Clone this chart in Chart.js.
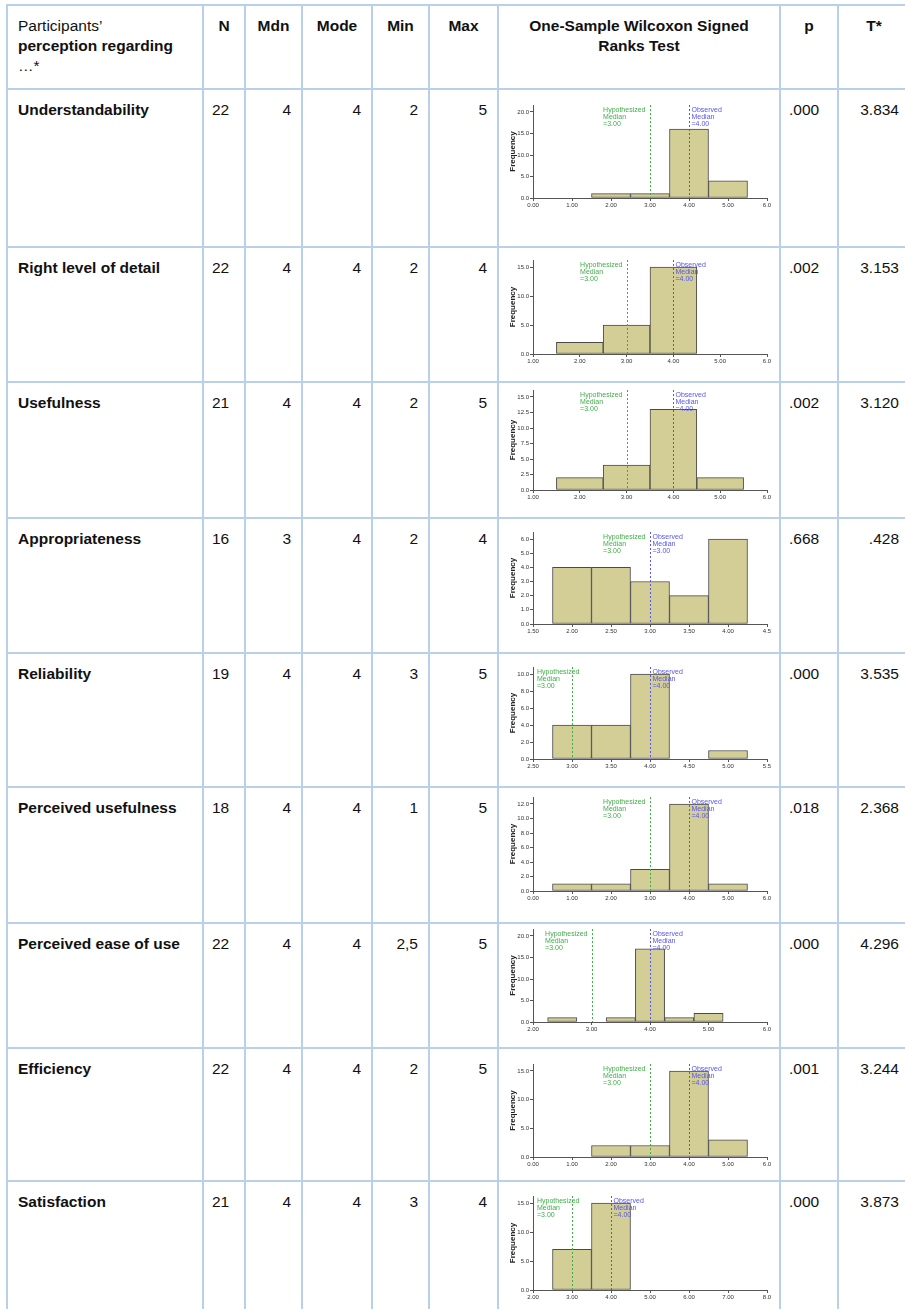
<!DOCTYPE html>
<html>
<head>
<meta charset="utf-8">
<script src="https://cdn.jsdelivr.net/npm/chart.js"></script>
<style>
html, body { margin:0; padding:0; overflow:hidden; background:#fff; }
body { width:905px; height:1309px; position:relative; font-family:"Liberation Sans", Arial, sans-serif; color:#111; }
table { position:absolute; left:6px; top:4px; border-collapse:collapse; table-layout:fixed; width:905px; }
td, th { border:2px solid #b9d0ea; padding:0; vertical-align:top; font-size:15.5px; line-height:20px; }
th { padding-top:10px; font-weight:bold; text-align:center; }
th.first { text-align:left; font-weight:normal; padding-left:10px; }
td { padding-top:10px; }
td.name { font-weight:bold; padding-left:10px; }
td.num { text-align:right; padding-right:10px; }
td.left { padding-left:8px; }
td.chart { padding:0; }
.box { position:relative; width:280px; }
.box canvas { position:absolute; left:0; top:0; }
</style>
</head>
<body>
<table id="tbl">
  <colgroup>
    <col style="width:196px"><col style="width:42px"><col style="width:57px"><col style="width:70px">
    <col style="width:57px"><col style="width:69px"><col style="width:282px"><col style="width:58px"><col style="width:72px">
  </colgroup>
  <thead>
    <tr style="height:84px">
      <th class="first">Participants’<br><b>perception regarding</b><br>…*</th>
      <th>N</th><th>Mdn</th><th>Mode</th><th>Min</th><th>Max</th>
      <th>One-Sample Wilcoxon Signed<br>Ranks Test</th>
      <th>p</th><th>T*</th>
    </tr>
  </thead>
  <tbody id="body"></tbody>
</table>
<script>
// table values
const rowNames = ['Understandability', 'Right level of detail', 'Usefulness', 'Appropriateness', 'Reliability',
  'Perceived usefulness', 'Perceived ease of use', 'Efficiency', 'Satisfaction'];
const nValues = [22, 22, 21, 16, 19, 18, 22, 22, 21];
const mdnValues = [4, 4, 4, 3, 4, 4, 4, 4, 4];
const modeValues = [4, 4, 4, 4, 4, 4, 4, 4, 4];
const minValues = ['2', '2', '2', '2', '3', '1', '2,5', '2', '3'];
const maxValues = [5, 4, 5, 4, 5, 5, 5, 5, 4];
const pValues = ['.000', '.002', '.002', '.668', '.000', '.018', '.000', '.001', '.000'];
const tValues = ['3.834', '3.153', '3.120', '.428', '3.535', '2.368', '4.296', '3.244', '3.873'];

// histogram values (bin centres and frequencies)
const binCenters = [[2, 3, 4, 5], [2, 3, 4], [2, 3, 4, 5], [2, 2.5, 3, 3.5, 4], [3, 3.5, 4, 5],
  [1, 2, 3, 4, 5], [2.5, 3.5, 4, 4.5, 5], [2, 3, 4, 5], [3, 4]];
const binCounts = [[1, 1, 16, 4], [2, 5, 15], [2, 4, 13, 2], [4, 4, 3, 2, 6], [4, 4, 10, 1],
  [1, 1, 3, 12, 1], [1, 1, 17, 1, 2], [2, 2, 15, 3], [7, 15]];
const hypMedians = [3, 3, 3, 3, 3, 3, 3, 3, 3];
const obsMedians = [4, 4, 4, 3, 4, 4, 4, 4, 4];

// axis ticks
const xTickValues = [[0, 1, 2, 3, 4, 5, 6], [1, 2, 3, 4, 5, 6], [1, 2, 3, 4, 5, 6], [1.5, 2, 2.5, 3, 3.5, 4, 4.5],
  [2.5, 3, 3.5, 4, 4.5, 5, 5.5], [0, 1, 2, 3, 4, 5, 6], [2, 3, 4, 5, 6], [0, 1, 2, 3, 4, 5, 6], [2, 3, 4, 5, 6, 7, 8]];
const xTickLabels = [
  ['0.00', '1.00', '2.00', '3.00', '4.00', '5.00', '6.0'],
  ['1.00', '2.00', '3.00', '4.00', '5.00', '6.0'],
  ['1.00', '2.00', '3.00', '4.00', '5.00', '6.0'],
  ['1.50', '2.00', '2.50', '3.00', '3.50', '4.00', '4.5'],
  ['2.50', '3.00', '3.50', '4.00', '4.50', '5.00', '5.5'],
  ['0.00', '1.00', '2.00', '3.00', '4.00', '5.00', '6.0'],
  ['2.00', '3.00', '4.00', '5.00', '6.0'],
  ['0.00', '1.00', '2.00', '3.00', '4.00', '5.00', '6.0'],
  ['2.00', '3.00', '4.00', '5.00', '6.00', '7.00', '8.0']];
const yTickValues = [[0, 5, 10, 15, 20], [0, 5, 10, 15], [0, 2.5, 5, 7.5, 10, 12.5, 15], [0, 1, 2, 3, 4, 5, 6],
  [0, 2, 4, 6, 8, 10], [0, 2, 4, 6, 8, 10, 12], [0, 5, 10, 15, 20], [0, 5, 10, 15], [0, 5, 10, 15]];

// layout: row heights and where the top tick / zero line sit below each row's top border
const rowHeights = [158, 135, 136, 135, 134, 136, 125, 133, 140];
const plotTop = [23, 20, 15, 21, 21, 17, 13, 23, 22];
const plotZero = [109, 107, 108, 106, 106, 104, 99, 109, 109];

const FONT = '"Liberation Sans", Arial, sans-serif';

const medianLines = {
  id: 'medianLines',
  afterDatasetsDraw(chart, args, opts) {
    const {ctx, chartArea, scales} = chart;
    ctx.save();
    ctx.font = '7px ' + FONT;
    ctx.textBaseline = 'top';
    ctx.textAlign = 'left';
    const drawLine = (val, color) => {
      const x = Math.round(scales.x.getPixelForValue(val)) + 0.5;
      ctx.strokeStyle = color;
      ctx.lineWidth = 1;
      ctx.setLineDash([2, 2]);
      ctx.beginPath();
      ctx.moveTo(x, chartArea.top);
      ctx.lineTo(x, chartArea.bottom);
      ctx.stroke();
      return x;
    };
    const hx = drawLine(opts.hyp, '#3fae49');
    const ox = drawLine(opts.obs, '#5656ea');

    const hypText = ['Hypothesized', 'Median', '=' + opts.hyp.toFixed(2)];
    const obsText = ['Observed', 'Median', '=' + opts.obs.toFixed(2)];
    const w = Math.max(...hypText.map(t => ctx.measureText(t).width));
    let hxText = Math.max(hx - 5 - w, chartArea.left + 4);
    ctx.fillStyle = '#3fae49';
    hypText.forEach((t, k) => ctx.fillText(t, hxText, chartArea.top + 2 + k * 7));
    ctx.fillStyle = '#5656ea';
    obsText.forEach((t, k) => ctx.fillText(t, ox + 2, chartArea.top + 2 + k * 7));
    ctx.restore();
  }
};

const tbody = document.getElementById('body');
rowNames.forEach((name, i) => {
  const tr = document.createElement('tr');
  tr.style.height = rowHeights[i] + 'px';
  const h = rowHeights[i] - 2;
  tr.innerHTML =
    '<td class="name">' + name + '</td>' +
    '<td class="left">' + nValues[i] + '</td>' +
    '<td class="num">' + mdnValues[i] + '</td>' +
    '<td class="num">' + modeValues[i] + '</td>' +
    '<td class="num">' + minValues[i] + '</td>' +
    '<td class="num">' + maxValues[i] + '</td>' +
    '<td class="chart"><div class="box" style="height:' + h + 'px"><canvas id="c' + i + '" width="280" height="' + h + '"></canvas></div></td>' +
    '<td class="left">' + pValues[i] + '</td>' +
    '<td class="num">' + tValues[i] + '</td>';
  tbody.appendChild(tr);
});

function makeChart(i) {
  const h = rowHeights[i] - 2;
  const topTick = plotTop[i] - 1;
  const zero = plotZero[i] - 1;
  const yTop = yTickValues[i][yTickValues[i].length - 1];
  const yMax = yTop * (zero - topTick + 7) / (zero - topTick);
  const xv = xTickValues[i];

  new Chart(document.getElementById('c' + i), {
    type: 'bar',
    data: {
      datasets: [{
        data: binCenters[i].map((c, k) => ({x: c, y: binCounts[i][k]})),
        backgroundColor: '#d3ce96',
        borderColor: '#4a4a4a',
        borderWidth: 1,
        borderSkipped: false,
        barPercentage: 1,
        categoryPercentage: 1
      }]
    },
    options: {
      responsive: false,
      animation: false,
      devicePixelRatio: 1,
      layout: { padding: { left: 0, right: 12, top: topTick - 7, bottom: h - zero - 14 } },
      plugins: {
        legend: { display: false },
        tooltip: { enabled: false },
        medianLines: { hyp: hypMedians[i], obs: obsMedians[i] }
      },
      scales: {
        x: {
          type: 'linear',
          min: xv[0],
          max: xv[xv.length - 1],
          offset: false,
          afterBuildTicks: s => { s.ticks = xv.map(v => ({value: v})); },
          afterFit: s => { s.height = 14; },
          grid: { display: true, drawOnChartArea: false, drawTicks: true, tickLength: 3, color: '#555', offset: false },
          border: { display: true, color: '#555', width: 1 },
          ticks: {
            autoSkip: false, maxRotation: 0, padding: 1, color: '#333',
            font: { size: 6, family: FONT },
            callback: (v, idx) => xTickLabels[i][idx]
          }
        },
        y: {
          min: 0,
          max: yMax,
          afterBuildTicks: s => { s.ticks = yTickValues[i].map(v => ({value: v})); },
          afterFit: s => { s.width = 34; },
          grid: { display: true, drawOnChartArea: false, drawTicks: true, tickLength: 3, color: '#555' },
          border: { display: true, color: '#555', width: 1 },
          ticks: {
            autoSkip: false, padding: 1, color: '#333',
            font: { size: 6, family: FONT },
            callback: v => v.toFixed(1)
          },
          title: {
            display: true, text: 'Frequency', color: '#222',
            font: { size: 8, weight: 'bold', family: FONT },
            padding: { top: 9, bottom: 0 }
          }
        }
      }
    },
    plugins: [medianLines]
  });
}

rowNames.forEach((n, i) => makeChart(i));
</script>
</body>
</html>
